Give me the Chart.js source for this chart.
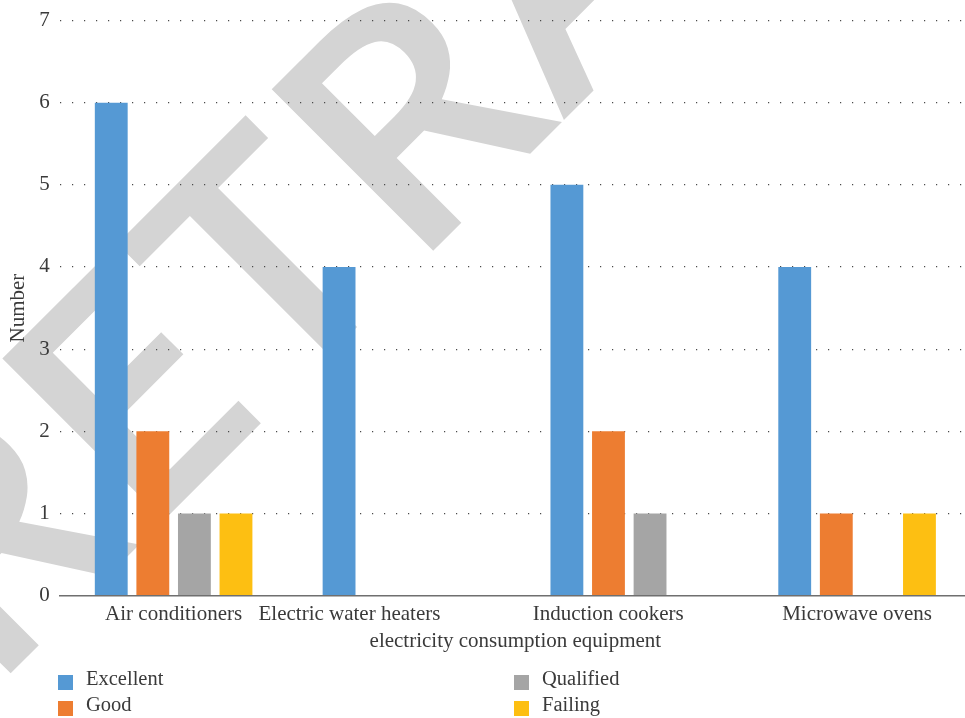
<!DOCTYPE html>
<html>
<head>
<meta charset="utf-8">
<script src="https://cdn.jsdelivr.net/npm/chart.js@4/dist/chart.umd.min.js"></script>
<style>
  html, body { margin: 0; padding: 0; background: #ffffff; overflow: hidden; }
  #wrap { position: relative; width: 975px; height: 718px; }
  canvas { display: block; }
</style>
</head>
<body>
<div id="wrap"><canvas id="chart" width="975" height="718"></canvas></div>
<script>
// Appliances tested and the number of units in each rating grade
const categories = ['Air conditioners', 'Electric water heaters', 'Induction cookers', 'Microwave ovens'];
const excellent = [6, 4, 5, 4];
const good      = [2, 0, 2, 1];
const qualified = [1, 0, 1, 0];
const failing   = [1, 0, 0, 1];
const seriesNames = ['Excellent', 'Good', 'Qualified', 'Failing'];
const seriesColors = ['#5599d4', '#ed7d31', '#a5a5a5', '#fdbf12'];
const yTicks = [0, 1, 2, 3, 4, 5, 6, 7];
const xTitle = 'electricity consumption equipment';
const yTitle = 'Number';
const stampText = 'RETRACTED';

const FONT = '"Liberation Serif", "Times New Roman", serif';
const TEXT = '#3a3a3a';

// horizontal nudge (px) applied to each category label
const xLabelShift = [0, -52, -21, 0];

// Large diagonal stamp drawn underneath everything else
const stampPlugin = {
  id: 'stamp',
  beforeDraw(chart) {
    const ctx = chart.ctx;
    ctx.save();
    ctx.fillStyle = '#d4d4d4';
    ctx.font = '600 320px "Open Sans", sans-serif';
    ctx.textBaseline = 'alphabetic';
    const lead = ctx.measureText(stampText.slice(0, 2)).width + ctx.measureText(stampText[2]).width / 2;
    ctx.translate(343, 341);
    ctx.rotate(-Math.PI / 4);
    ctx.scale(1.06, 1);
    ctx.fillText(stampText, -lead, 0);
    ctx.restore();

    // nudge category labels sideways
    const items = chart.scales.x.getLabelItems();
    items.forEach((item, i) => {
      if (!item._nudged) {
        item.options.translation[0] += xLabelShift[i] || 0;
        item._nudged = true;
      }
    });
  }
};

// Two-column legend under the axis title
const legendPlugin = {
  id: 'gridLegend',
  afterDraw(chart) {
    const ctx = chart.ctx;
    const colX = [58, 514];
    const rowY = [682, 708];
    ctx.save();
    ctx.font = '20.5px ' + FONT;
    ctx.textBaseline = 'middle';
    chart.data.datasets.forEach((ds, i) => {
      const col = Math.floor(i / 2), row = i % 2;
      const x = colX[col], y = rowY[row];
      ctx.fillStyle = ds.backgroundColor;
      ctx.fillRect(x, y - 7, 15, 15);
      ctx.fillStyle = TEXT;
      ctx.fillText(ds.label, x + 28, y - 2);
    });
    ctx.restore();
  }
};

const seriesData = [excellent, good, qualified, failing];

new Chart(document.getElementById('chart'), {
  type: 'bar',
  data: {
    labels: categories,
    datasets: seriesData.map((values, i) => ({
      label: seriesNames[i],
      data: values,
      backgroundColor: seriesColors[i],
      borderWidth: 0,
      categoryPercentage: 0.73,
      barPercentage: 0.79
    }))
  },
  options: {
    responsive: false,
    animation: false,
    devicePixelRatio: 1,
    layout: { padding: { top: 0, right: 4, bottom: 64, left: 0 } },
    plugins: {
      legend: { display: false },
      tooltip: { enabled: false }
    },
    scales: {
      x: {
        grid: { display: false, drawTicks: false },
        border: { display: true, color: '#6f6f6f', width: 1.5 },
        ticks: { color: TEXT, font: { family: FONT, size: 21 }, padding: 6, maxRotation: 0, autoSkip: false },
        title: { display: true, text: xTitle, color: TEXT, font: { family: FONT, size: 21 }, padding: { top: -4, bottom: 0 } }
      },
      y: {
        min: 0,
        max: 7,
        afterBuildTicks(scale) { scale.ticks = yTicks.map(v => ({ value: v })); },
        grid: {
          drawTicks: false,
          color: ctx => (ctx.tick && ctx.tick.value === 0) ? 'rgba(0,0,0,0)' : '#4a4a4a',
          lineWidth: 1.2
        },
        border: { display: false, dash: [1.2, 10.8] },
        ticks: { color: TEXT, font: { family: FONT, size: 21, lineHeight: 1.0 }, padding: 10 },
        title: { display: true, text: yTitle, color: TEXT, font: { family: FONT, size: 21 }, padding: { top: 6, bottom: -2 } }
      }
    }
  },
  plugins: [stampPlugin, legendPlugin]
});
</script>
</body>
</html>
